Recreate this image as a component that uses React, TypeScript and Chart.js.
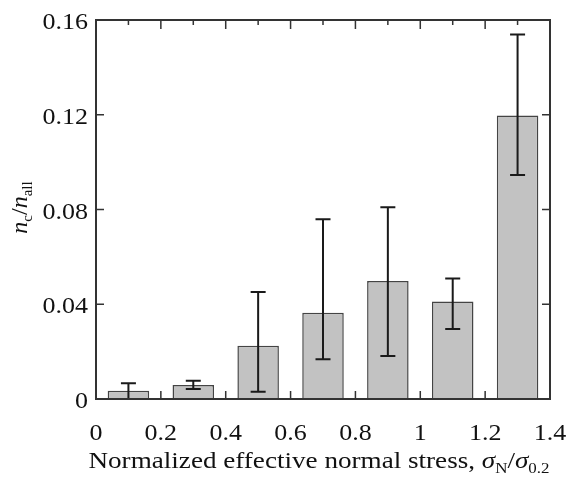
import { useEffect, useRef } from "react";
import { Chart, registerables } from "chart.js";

Chart.register(...registerables);

// ---- data ----
const stressCenters = [0.1, 0.3, 0.5, 0.7, 0.9, 1.1, 1.3];
const ratioMeans = [0.0035, 0.0059, 0.0225, 0.0364, 0.0498, 0.0412, 0.1197];
const errLower = [0.0, 0.0042, 0.0031, 0.0168, 0.0182, 0.0295, 0.0946];
const errUpper = [0.0066, 0.0077, 0.0452, 0.0759, 0.0809, 0.0509, 0.1539];

const xTickValues = [0, 0.2, 0.4, 0.6, 0.8, 1.0, 1.2, 1.4];
const xTickLabels = ["0", "0.2", "0.4", "0.6", "0.8", "1", "1.2", "1.4"];
const xMinorTickValues = [0.1, 0.3, 0.5, 0.7, 0.9, 1.1, 1.3];
const yTickValues = [0, 0.04, 0.08, 0.12, 0.16];
const yTickLabels = ["0", "0.04", "0.08", "0.12", "0.16"];

const SERIF = "'Liberation Serif', 'Times New Roman', serif";
const STRETCH = 1.13;

type Seg = { t: string; font: string; dy?: number };

function drawSegs(
  ctx: CanvasRenderingContext2D,
  segs: Seg[],
  x: number,
  y: number,
  align: "center" | "left" | "right",
  sx: number
) {
  let total = 0;
  for (const s of segs) {
    ctx.font = s.font;
    total += ctx.measureText(s.t).width;
  }
  total *= sx;
  let cx = align === "center" ? x - total / 2 : align === "right" ? x - total : x;
  ctx.textAlign = "left";
  ctx.textBaseline = "alphabetic";
  for (const s of segs) {
    ctx.font = s.font;
    ctx.save();
    ctx.translate(cx, y + (s.dy || 0));
    ctx.scale(sx, 1);
    ctx.fillText(s.t, 0, 0);
    ctx.restore();
    cx += ctx.measureText(s.t).width * sx;
  }
}

const customPlugin = {
  id: "customFrame",
  beforeDatasetsDraw(chart: any) {
    const { ctx, chartArea: a, scales } = chart;
    const x = scales.x;
    const y = scales.y;
    ctx.save();
    ctx.strokeStyle = "#333";
    ctx.lineWidth = 1.5;
    ctx.beginPath();
    for (const v of xTickValues) {
      const px = x.getPixelForValue(v);
      ctx.moveTo(px, a.bottom);
      ctx.lineTo(px, a.bottom - 8);
      ctx.moveTo(px, a.top);
      ctx.lineTo(px, a.top + 9);
    }
    for (const v of xMinorTickValues) {
      const px = x.getPixelForValue(v);
      ctx.moveTo(px, a.bottom);
      ctx.lineTo(px, a.bottom - 5);
      ctx.moveTo(px, a.top);
      ctx.lineTo(px, a.top + 5);
    }
    for (const v of yTickValues) {
      const py = y.getPixelForValue(v);
      ctx.moveTo(a.left, py);
      ctx.lineTo(a.left + 8, py);
      ctx.moveTo(a.right, py);
      ctx.lineTo(a.right - 8, py);
    }
    ctx.stroke();
    ctx.restore();
  },
  afterDatasetsDraw(chart: any) {
    const { ctx, scales } = chart;
    const x = scales.x;
    const y = scales.y;
    ctx.save();
    ctx.strokeStyle = "#1a1a1a";
    ctx.lineWidth = 2;
    ctx.beginPath();
    for (let i = 0; i < stressCenters.length; i++) {
      const px = x.getPixelForValue(stressCenters[i]);
      const lo = y.getPixelForValue(errLower[i]);
      const hi = y.getPixelForValue(errUpper[i]);
      ctx.moveTo(px, lo);
      ctx.lineTo(px, hi);
      ctx.moveTo(px - 7.5, hi);
      ctx.lineTo(px + 7.5, hi);
      ctx.moveTo(px - 7.5, lo);
      ctx.lineTo(px + 7.5, lo);
    }
    ctx.stroke();
    ctx.restore();
  },
  afterDraw(chart: any) {
    const { ctx, chartArea: a, scales } = chart;
    const x = scales.x;
    const y = scales.y;
    ctx.save();
    ctx.strokeStyle = "#333";
    ctx.lineWidth = 2;
    ctx.strokeRect(a.left, a.top, a.right - a.left, a.bottom - a.top);

    ctx.fillStyle = "#111";
    const tickFont = `23px ${SERIF}`;
    xTickValues.forEach((v, i) => {
      drawSegs(ctx, [{ t: xTickLabels[i], font: tickFont }], x.getPixelForValue(v), a.bottom + 41, "center", STRETCH);
    });
    yTickValues.forEach((v, i) => {
      drawSegs(ctx, [{ t: yTickLabels[i], font: tickFont }], a.left - 8, y.getPixelForValue(v) + 9, "right", STRETCH);
    });

    const big = `24px ${SERIF}`;
    const bigI = `italic 24px ${SERIF}`;
    const small = `15px ${SERIF}`;
    drawSegs(
      ctx,
      [
        { t: "Normalized effective normal stress, ", font: big },
        { t: "σ", font: bigI },
        { t: "N", font: small, dy: 5 },
        { t: "/", font: big },
        { t: "σ", font: bigI },
        { t: "0.2", font: small, dy: 5 },
      ],
      (a.left + a.right) / 2 - 4,
      468,
      "center",
      STRETCH
    );

    ctx.translate(27, (a.top + a.bottom) / 2 - 2);
    ctx.rotate(-Math.PI / 2);
    drawSegs(
      ctx,
      [
        { t: "n", font: bigI },
        { t: "c", font: small, dy: 5 },
        { t: "/", font: big },
        { t: "n", font: bigI },
        { t: "all", font: small, dy: 5 },
      ],
      0,
      0,
      "center",
      1
    );
    ctx.restore();
  },
};

export default function App() {
  const canvasRef = useRef<HTMLCanvasElement | null>(null);

  useEffect(() => {
    const canvas = canvasRef.current;
    if (!canvas) return;
    const chart = new Chart(canvas, {
      type: "bar",
      data: {
        datasets: [
          {
            data: stressCenters.map((c, i) => ({ x: c, y: ratioMeans[i] })),
            backgroundColor: "#c2c2c2",
            borderColor: "#444",
            borderWidth: 1.5,
            barPercentage: 0.64,
            categoryPercentage: 1,
          },
        ],
      },
      options: {
        animation: false,
        responsive: false,
        maintainAspectRatio: false,
        layout: { padding: { top: 20, right: 20, left: 0, bottom: 0 } },
        plugins: {
          legend: { display: false },
          tooltip: { enabled: false },
        },
        scales: {
          x: {
            type: "linear",
            min: 0,
            max: 1.4,
            offset: false,
            grid: { display: false },
            border: { display: false },
            ticks: { display: false },
            afterFit: (scale: any) => {
              scale.height = 80;
              scale.paddingLeft = 0;
              scale.paddingRight = 0;
            },
          },
          y: {
            min: 0,
            max: 0.16,
            grid: { display: false },
            border: { display: false },
            ticks: { display: false },
            afterFit: (scale: any) => {
              scale.width = 96;
              scale.paddingTop = 0;
              scale.paddingBottom = 0;
            },
          },
        },
      },
      plugins: [customPlugin],
    });
    return () => chart.destroy();
  }, []);

  return (
    <div style={{ position: "fixed", left: 0, top: 0, width: 570, height: 479, background: "#fff" }}>
      <canvas ref={canvasRef} width={570} height={479} style={{ width: 570, height: 479 }} />
    </div>
  );
}
